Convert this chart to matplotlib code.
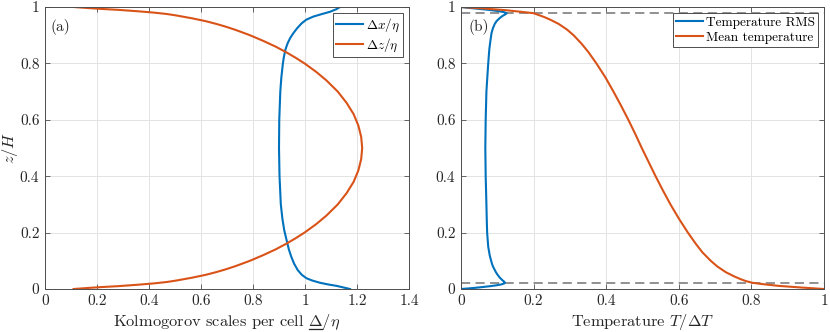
import matplotlib
matplotlib.use("Agg")
import matplotlib.pyplot as plt
from matplotlib.lines import Line2D

plt.rcParams['font.family'] = 'serif'
plt.rcParams['font.serif'] = ['cmr10', 'DejaVu Serif']
plt.rcParams['mathtext.fontset'] = 'cm'
plt.rcParams['axes.formatter.use_mathtext'] = True

BLUE = '#0072BD'
ORANGE = '#D95319'

# ---- Panel (a) data ----
z_dx = [0.0, 0.005, 0.011, 0.016, 0.022, 0.03, 0.038, 0.05, 0.067, 0.09, 0.115, 0.14, 0.174, 0.209, 0.25,
        0.3, 0.4, 0.5, 0.6, 0.7, 0.75, 0.8, 0.824, 0.85, 0.871, 0.89, 0.907, 0.925, 0.942,
        0.955, 0.966, 0.975, 0.983, 0.992, 1.0]
dx_eta = [1.173, 1.15, 1.122, 1.09, 1.058, 1.028, 1.006, 0.988, 0.972, 0.958, 0.947, 0.938, 0.929, 0.920, 0.913,
          0.907, 0.902, 0.900, 0.901, 0.905, 0.909, 0.915, 0.919, 0.925, 0.933, 0.943, 0.955, 0.970, 0.987,
          1.005, 1.032, 1.065, 1.096, 1.12, 1.135]

z_dz = [0.0, 0.002, 0.004, 0.007, 0.010, 0.015, 0.020, 0.025, 0.03, 0.04, 0.05, 0.06, 0.07, 0.08,
        0.09, 0.10, 0.12, 0.14, 0.16, 0.18, 0.20, 0.23, 0.26, 0.30, 0.34, 0.38, 0.42, 0.46, 0.50,
        0.54, 0.58, 0.62, 0.66, 0.70, 0.74, 0.77, 0.80, 0.82, 0.84, 0.86, 0.88, 0.90, 0.91, 0.92,
        0.93, 0.94, 0.95, 0.96, 0.97, 0.975, 0.980, 0.985, 0.990, 0.993, 0.996, 0.998, 1.0]
dz_eta = [0.11, 0.14, 0.17, 0.22, 0.28, 0.355, 0.42, 0.47, 0.505, 0.565, 0.617, 0.659, 0.696, 0.729,
          0.759, 0.788, 0.839, 0.886, 0.927, 0.964, 0.998, 1.043, 1.082, 1.126, 1.160, 1.187, 1.205, 1.216, 1.22,
          1.216, 1.205, 1.187, 1.160, 1.126, 1.082, 1.043, 0.998, 0.964, 0.927, 0.886, 0.839, 0.788, 0.759, 0.729,
          0.696, 0.659, 0.617, 0.565, 0.505, 0.47, 0.42, 0.355, 0.28, 0.22, 0.17, 0.14, 0.11]

# ---- Panel (b) data ----
z_rms = [0.0, 0.002, 0.004, 0.007, 0.010, 0.013, 0.016, 0.019, 0.022, 0.026, 0.03, 0.035, 0.04, 0.05, 0.06,
         0.07, 0.08, 0.091, 0.105, 0.12, 0.15, 0.2, 0.245, 0.3, 0.4, 0.5, 0.6, 0.7, 0.741, 0.8, 0.85, 0.88,
         0.907, 0.925, 0.94, 0.95, 0.96, 0.968, 0.974, 0.978, 0.982, 0.986, 0.99, 0.994, 0.997, 1.0]
t_rms = [0.0, 0.02, 0.038, 0.06, 0.08, 0.097, 0.11, 0.118, 0.121, 0.119, 0.115, 0.111, 0.107, 0.101, 0.096,
         0.092, 0.088, 0.085, 0.082, 0.079, 0.075, 0.072, 0.071, 0.07, 0.068, 0.067, 0.068, 0.07, 0.072, 0.075, 0.078, 0.081,
         0.084, 0.088, 0.093, 0.098, 0.106, 0.114, 0.122, 0.126, 0.118, 0.10, 0.075, 0.045, 0.02, 0.0]

z_mean = [0.0, 0.005, 0.011, 0.017, 0.022, 0.028, 0.035, 0.045, 0.06, 0.08, 0.10, 0.13, 0.16, 0.20, 0.25,
          0.30, 0.35, 0.40, 0.45, 0.50, 0.55, 0.60, 0.65, 0.70, 0.75, 0.80, 0.84, 0.87, 0.90, 0.92,
          0.94, 0.955, 0.965, 0.972, 0.978, 0.983, 0.989, 0.995, 1.0]
t_mean = [1.0, 0.94, 0.876, 0.833, 0.803, 0.785, 0.770, 0.752, 0.729, 0.706, 0.688, 0.665, 0.647, 0.625, 0.600,
          0.577, 0.556, 0.536, 0.517, 0.498, 0.480, 0.461, 0.441, 0.420, 0.398, 0.373, 0.351, 0.332, 0.310, 0.292,
          0.269, 0.246, 0.228, 0.213, 0.200, 0.165, 0.121, 0.06, 0.0]

dash_levels = [0.022, 0.978]

xticks_a = [0, 0.2, 0.4, 0.6, 0.8, 1, 1.2, 1.4]
xticklabels_a = ['0', '0.2', '0.4', '0.6', '0.8', '1', '1.2', '1.4']
xticks_b = [0, 0.2, 0.4, 0.6, 0.8, 1]
xticklabels_b = ['0', '0.2', '0.4', '0.6', '0.8', '1']
yticks = [0, 0.2, 0.4, 0.6, 0.8, 1]
yticklabels = ['0', '0.2', '0.4', '0.6', '0.8', '1']

fig = plt.figure(figsize=(8.3, 3.32), dpi=100)
axa = fig.add_axes([45/830, 1-289/332, 364/830, 282/332])
axb = fig.add_axes([461/830, 1-289/332, 363/830, 282/332])

TICKFS = 11
LABFS = 11.8
LEGFS = 9.6
EDGE = '#4d4d4d'
TXT = '#262626'

def style(ax, xt, xtl):
    ax.set_xticks(xt)
    ax.set_xticklabels(xtl)
    ax.set_yticks(yticks)
    ax.set_yticklabels(yticklabels)
    ax.grid(True, color='#e3e3e3', linewidth=0.7)
    ax.set_axisbelow(True)
    ax.tick_params(direction='in', top=True, right=True, length=3.5, width=0.6,
                   colors=EDGE, labelcolor=TXT, labelsize=TICKFS, pad=4)
    for s in ax.spines.values():
        s.set_color(EDGE)
        s.set_linewidth(0.7)

def legend(ax):
    lg = ax.legend(loc='upper right', fontsize=LEGFS, fancybox=False, framealpha=1,
                   edgecolor=EDGE, handlelength=2.0, borderaxespad=0.45, borderpad=0.25,
                   labelspacing=0.2, handletextpad=0.2)
    lg.get_frame().set_linewidth(0.7)
    return lg

# Panel (a)
axa.plot(dx_eta, z_dx, color=BLUE, lw=1.5, label=r'$\Delta x/\eta$')
axa.plot(dz_eta, z_dz, color=ORANGE, lw=1.5, label=r'$\Delta z/\eta$')
axa.set_xlim(0, 1.4)
axa.set_ylim(0, 1)
style(axa, xticks_a, xticklabels_a)
xl = axa.set_xlabel(r'Kolmogorov scales per cell $\Delta/\eta$', fontsize=LABFS, color=TXT, labelpad=3)
axa.set_ylabel(r'$z/H$', fontsize=LABFS, color=TXT)
axa.yaxis.set_label_coords(-0.07, 0.5)
axa.text(0.014, 0.93, '(a)', transform=axa.transAxes, fontsize=11, color=TXT, va='center')
legend(axa)

# Panel (b)
for lv in dash_levels:
    axb.axhline(lv, color='#737373', lw=1.1, ls=(0, (6, 3.5)))
axb.plot(t_rms, z_rms, color=BLUE, lw=1.5, label='Temperature RMS')
axb.plot(t_mean, z_mean, color=ORANGE, lw=1.5, label='Mean temperature')
axb.set_xlim(0, 1)
axb.set_ylim(0, 1)
style(axb, xticks_b, xticklabels_b)
axb.set_xlabel(r'Temperature $T/\Delta T$', fontsize=LABFS, color=TXT, labelpad=3)
axb.text(0.02, 0.93, '(b)', transform=axb.transAxes, fontsize=11, color=TXT, va='center')
legend(axb)

# underline the Delta in the x label of panel (a)
fig.canvas.draw()
r = fig.canvas.get_renderer()
bb = xl.get_window_extent(r)
t1 = fig.text(0, 0, r'$/\eta$', fontsize=LABFS)
t2 = fig.text(0, 0, r'$\Delta/\eta$', fontsize=LABFS)
w1 = t1.get_window_extent(r).width
w2 = t2.get_window_extent(r).width
t1.remove(); t2.remove()
x_end = bb.x1 - w1
x_start = bb.x1 - w2
y_line = bb.y0 + 0.17 * bb.height
W, H = fig.get_size_inches() * fig.dpi
fig.add_artist(Line2D([x_start / W, x_end / W], [y_line / H, y_line / H], color=TXT, lw=0.9))

fig.savefig('out.png', dpi=100)
